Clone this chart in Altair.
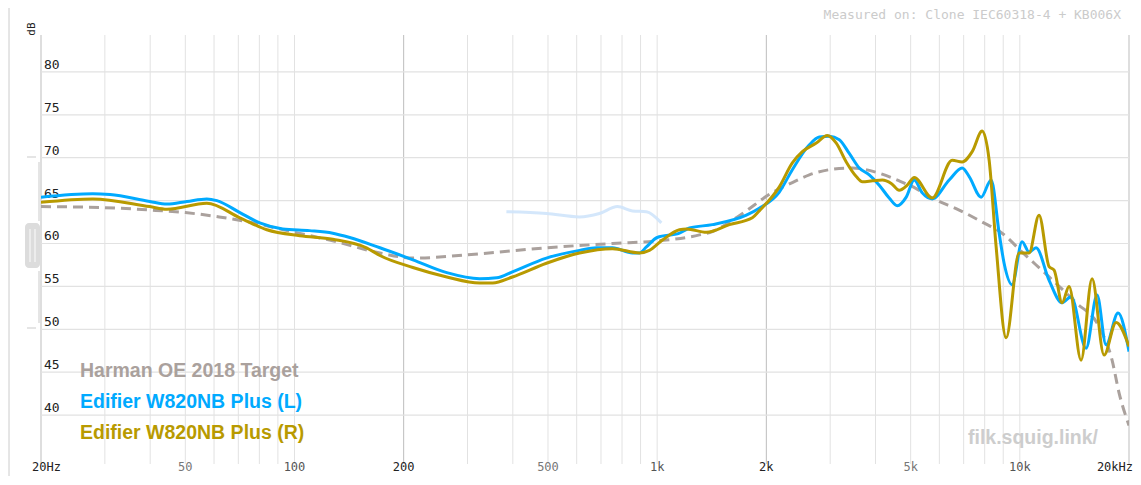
import altair as alt
import pandas as pd

# ---------------- data ----------------
TARGET_F = [20, 29, 40, 50, 62, 75, 100, 125, 172, 212, 324, 495, 753, 1000, 1308,
            1420, 1612, 1762, 1912, 2000, 2359, 2628, 2983, 3452, 4020, 4650, 5180, 5733,
            6805, 7874, 8937, 10144, 12043, 14293, 16540, 17962, 18776, 20000]
TARGET_DB = [64.3, 64.2, 63.9, 63.6, 63.1, 62.5, 61.3, 60.4, 58.9, 58.3, 58.8, 59.5, 60.0, 60.3, 61.0,
             61.4, 62.7, 63.8, 64.9, 65.5, 67.1, 68.0, 68.6, 68.8, 68.3, 67.3, 66.4, 65.3,
             63.9, 62.5, 61.2, 59.0, 56.1, 53.1, 50.3, 46.4, 42.6, 38.8]

L_F = [20, 27.8, 31, 39.9, 44.5, 50.5, 57.3, 61.1, 70.7, 80.2, 92.8, 110, 127.5, 142, 172,
       212, 263, 324, 361, 399, 495, 611, 680, 753, 855, 894, 934, 1000, 1152, 1228, 1420,
       1762, 1912, 2172, 2359, 2628, 2800, 2983, 3178, 3386, 3608, 3845, 4096, 4363, 4592,
       4861, 5115, 5382, 5733, 6386, 6935, 7250, 7824, 8335, 8770, 9050, 9522, 10144, 10604,
       11085, 12043, 13076, 13845, 15229, 16330, 17290, 18658, 20000]
L_DB = [65.4, 65.8, 65.7, 64.9, 64.6, 64.9, 65.2, 65.0, 63.6, 62.4, 61.7, 61.5, 61.2, 60.7, 59.5,
        58.1, 56.6, 55.9, 56.0, 56.7, 58.3, 59.2, 59.5, 59.5, 58.9, 58.9, 59.6, 60.7, 61.2, 61.8, 62.2,
        63.3, 64.1, 66.0, 68.6, 71.5, 72.4, 72.5, 72.1, 70.5, 68.8, 68.0, 66.8, 65.3, 64.4,
        65.4, 67.4, 65.9, 65.2, 67.4, 68.8, 67.8, 65.4, 67.4, 61.2, 57.7, 55.2, 60.2, 59.0,
        59.5, 55.7, 53.1, 53.8, 47.8, 54.0, 48.2, 51.9, 47.4]

R_F = [20, 27.8, 39.9, 44.5, 57.3, 70.7, 83.9, 103.4, 127.5, 158, 172, 212, 263, 324, 352,
       399, 495, 611, 753, 894, 952, 1034, 1152, 1205, 1367, 1582, 1830, 1912, 2172, 2359,
       2514, 2746, 2945, 3118, 3322, 3540, 3678, 3920, 4176, 4420, 4650, 4892, 5115, 5733,
       6509, 6935, 7390, 7874, 8230, 8604, 9166, 9954, 10604, 11297, 12043, 12431, 13076,
       13670, 14753, 15818, 17070, 18423, 20000]
R_DB = [64.8, 65.2, 64.3, 64.0, 64.7, 63.0, 61.6, 60.9, 60.5, 59.5, 58.6, 57.2, 56.1, 55.4, 55.4,
        56.1, 57.7, 58.9, 59.4, 58.9, 59.2, 60.4, 61.6, 61.7, 61.3, 62.2, 63.0, 63.8, 66.6, 69.4,
        70.7, 71.7, 72.6, 71.7, 69.5, 67.8, 67.2, 67.3, 67.4, 67.0, 66.2, 66.8, 67.7, 65.3,
        69.7, 69.5, 70.7, 73.1, 69.7, 59.6, 49.0, 58.9, 58.9, 63.3, 57.3, 56.9, 53.1,
        55.0, 46.4, 55.9, 47.0, 50.8, 48.0]

GHOST_F = [384, 495, 611, 693, 777, 855, 934, 1027]
GHOST_DB = [63.7, 63.5, 63.1, 63.5, 64.3, 63.8, 63.7, 62.4]

Y_TICKS = [40, 45, 50, 55, 60, 65, 70, 75, 80]
GRID_LIGHT_F = [30, 40, 50, 60, 70, 80, 90, 100, 300, 400, 500, 600, 700, 800, 900, 1000,
                3000, 4000, 5000, 6000, 7000, 8000, 9000, 10000]
GRID_DARK_F = [20, 200, 2000, 20000]

XLAB_MID_F = [50, 100, 200, 500, 1000, 2000, 5000, 10000]
XLAB_MID_T = ["50", "100", "200", "500", "1k", "2k", "5k", "10k"]
XLAB_MID_C = ["#777", "#555", "#222", "#777", "#555", "#222", "#777", "#555"]

LEGEND_NAMES = ["Harman OE 2018 Target", "Edifier W820NB Plus (L)", "Edifier W820NB Plus (R)"]
COL_TARGET = "#aaa19d"
COL_L = "#00aaff"
COL_R = "#b89a00"
COL_GHOST = "#cfe4fb"

# ---------------- chart ----------------
W, H = 1088, 429
xs = alt.Scale(type="log", domain=[20, 20000], nice=False)
ys = alt.Scale(domain=[34.3, 84.3], nice=False, zero=False)


def one():
    return pd.DataFrame({"a": [0]})


def series(f, db):
    return pd.DataFrame({"f": f, "db": db})


X = lambda: alt.X("f:Q", scale=xs, axis=None)
Y = lambda: alt.Y("db:Q", scale=ys, axis=None)

grid_light = alt.Chart(pd.DataFrame({"f": GRID_LIGHT_F})).mark_rule(
    color="#e2e2e2", strokeWidth=1).encode(x=X())
grid_dark = alt.Chart(pd.DataFrame({"f": GRID_DARK_F})).mark_rule(
    color="#bdbdbd", strokeWidth=1).encode(x=X())
grid_h = alt.Chart(pd.DataFrame({"db": Y_TICKS})).mark_rule(
    color="#e2e2e2", strokeWidth=1.2).encode(y=Y())

ylab = alt.Chart(pd.DataFrame({"db": Y_TICKS, "t": [str(v) for v in Y_TICKS]})).mark_text(
    align="left", baseline="alphabetic", dy=-3, font="DejaVu Sans Mono", fontSize=13,
    color="#222").encode(x=alt.value(3), y=Y(), text="t:N")

xlab_mid = alt.Chart(pd.DataFrame({"f": XLAB_MID_F, "t": XLAB_MID_T, "c": XLAB_MID_C})).mark_text(
    align="center", baseline="alphabetic", font="DejaVu Sans Mono", fontSize=12).encode(
    x=X(), y=alt.value(436), text="t:N", color=alt.Color("c:N", scale=None))
xlab_first = alt.Chart(pd.DataFrame({"f": [20], "t": ["20Hz"]})).mark_text(
    align="left", baseline="alphabetic", dx=-9, font="DejaVu Sans Mono", fontSize=12,
    color="#222").encode(x=X(), y=alt.value(436), text="t:N")
xlab_last = alt.Chart(pd.DataFrame({"f": [20000], "t": ["20kHz"]})).mark_text(
    align="right", baseline="alphabetic", dx=4, font="DejaVu Sans Mono", fontSize=12,
    color="#222").encode(x=X(), y=alt.value(436), text="t:N")

ghost = alt.Chart(series(GHOST_F, GHOST_DB)).mark_line(
    color=COL_GHOST, strokeWidth=3, interpolate="monotone", opacity=0.9).encode(x=X(), y=Y())
target = alt.Chart(series(TARGET_F, TARGET_DB)).mark_line(
    color=COL_TARGET, strokeWidth=3, strokeDash=[10, 6], interpolate="monotone", clip=True).encode(x=X(), y=Y())
left = alt.Chart(series(L_F, L_DB)).mark_line(
    color=COL_L, strokeWidth=3, interpolate="monotone", clip=True).encode(x=X(), y=Y())
right = alt.Chart(series(R_F, R_DB)).mark_line(
    color=COL_R, strokeWidth=3, interpolate="monotone", clip=True).encode(x=X(), y=Y())

legend = alt.Chart(pd.DataFrame({
    "t": LEGEND_NAMES,
    "c": [COL_TARGET, COL_L, COL_R],
    "yy": [342, 373, 404],
})).mark_text(align="left", baseline="alphabetic", font="Liberation Sans", fontSize=19.5,
              fontWeight="bold").encode(
    x=alt.value(39), y=alt.Y("yy:Q", scale=None), text="t:N", color=alt.Color("c:N", scale=None))

watermark = alt.Chart(one()).mark_text(
    text="filk.squig.link/", align="left", baseline="alphabetic", font="Liberation Sans",
    fontSize=19.5, fontWeight="bold", color="#cdcdcd").encode(x=alt.value(927), y=alt.value(409))
measured = alt.Chart(one()).mark_text(
    text="Measured on: Clone IEC60318-4 + KB006X", align="right", baseline="alphabetic",
    font="DejaVu Sans Mono", fontSize=13, color="#cbcbcb").encode(x=alt.value(1080), y=alt.value(-16))
db_title = alt.Chart(one()).mark_text(
    text="dB", angle=270, align="center", baseline="middle", font="DejaVu Sans Mono",
    fontSize=11, color="#222").encode(x=alt.value(-9), y=alt.value(-6))

# decorative side bracket / handle and page divider
deco_col = "#dcdcdc"
page_line = alt.Chart(one()).mark_rule(color="#cccccc", strokeWidth=1).encode(
    x=alt.value(-32), y=alt.value(-27), y2=alt.value(441))
br_top = alt.Chart(one()).mark_rule(color=deco_col, strokeWidth=1.5).encode(
    x=alt.value(-14), x2=alt.value(-5), y=alt.value(122))
br_bot = alt.Chart(one()).mark_rule(color=deco_col, strokeWidth=1.5).encode(
    x=alt.value(-14), x2=alt.value(-5), y=alt.value(293))
br_v1 = alt.Chart(one()).mark_rule(color=deco_col, strokeWidth=1.5).encode(
    x=alt.value(-2), y=alt.value(127), y2=alt.value(186))
br_v2 = alt.Chart(one()).mark_rule(color=deco_col, strokeWidth=1.5).encode(
    x=alt.value(-2), y=alt.value(236), y2=alt.value(288))
handle = alt.Chart(one()).mark_rect(color="#dcdcdc", cornerRadius=4).encode(
    x=alt.value(-16), x2=alt.value(-1), y=alt.value(188), y2=alt.value(233))
handle_l1 = alt.Chart(one()).mark_rule(color="#f2f2f2", strokeWidth=1.5).encode(
    x=alt.value(-11), y=alt.value(194), y2=alt.value(227))
handle_l2 = alt.Chart(one()).mark_rule(color="#f2f2f2", strokeWidth=1.5).encode(
    x=alt.value(-6), y=alt.value(194), y2=alt.value(227))

chart = alt.layer(
    page_line, br_top, br_bot, br_v1, br_v2, handle, handle_l1, handle_l2,
    grid_light, grid_dark, grid_h, ylab, xlab_mid, xlab_first, xlab_last,
    ghost, target, left, right, legend, watermark, measured, db_title,
).properties(
    width=W, height=H,
    autosize=alt.AutoSizeParams(type="none"),
    padding={"left": 33, "top": 27, "right": 4, "bottom": 12},
    background="white",
).configure_view(stroke=None)

chart.save("out.html", embed_options={"renderer": "svg", "actions": False})
